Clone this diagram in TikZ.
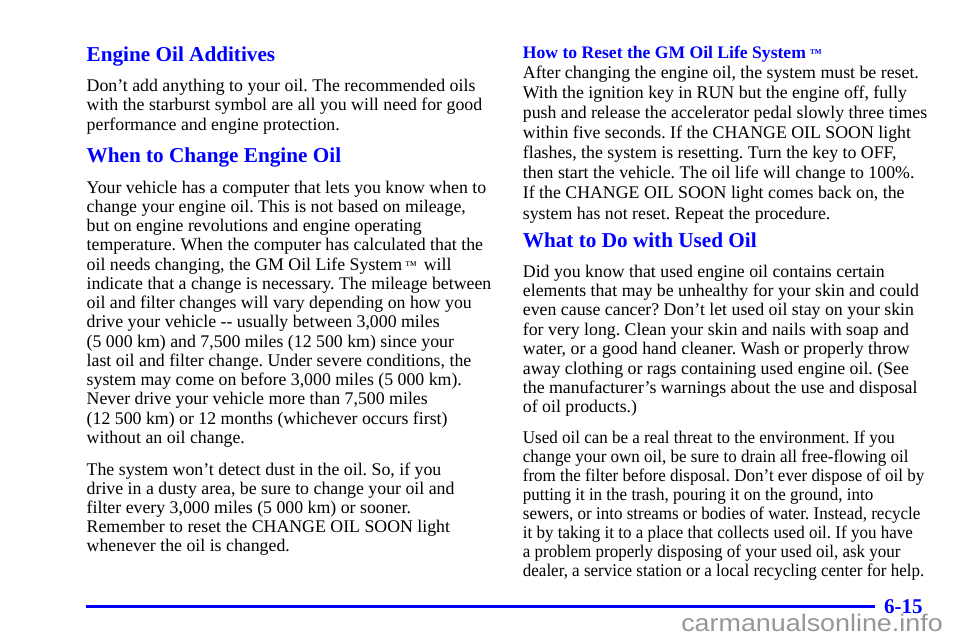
\documentclass[tikz,border=0pt]{standalone}
\usepackage{fontspec}
\setmainfont{Liberation Serif}
\newfontfamily\wmfont{Liberation Sans}
\newfontfamily\condfont[FakeStretch=0.955]{Liberation Serif}
\definecolor{gmblue}{RGB}{0,0,255}
\definecolor{wmgray}{RGB}{150,150,150}
\newcommand\oilpar[2]{\parbox[t]{470pt}{\frenchspacing\fontsize{17.8}{#1}\selectfont #2}}
\newcommand\tmark{{\fontsize{12}{12}\selectfont\raisebox{1pt}{™}}}
\tikzset{
  head/.style={anchor=base west,inner sep=0pt,text=gmblue,font=\fontsize{21.2}{24}\selectfont\bfseries},
  subhead/.style={head,font=\fontsize{17.6}{20}\selectfont\bfseries},
  body/.style={anchor=base west,inner sep=0pt},
}
\begin{document}
\begin{tikzpicture}[x=1pt,y=-1pt]
\useasboundingbox (0,0) rectangle (960,640);
% left column
\node[head] (addhead) at (86.5,61) {Engine Oil Additives};
\node[body] (addpar) at (86.5,91.7) {\oilpar{19.2}{Don’t add anything to your oil. The recommended oils\\
with the starburst symbol are all you will need for good\\
performance and engine protection.}};
\node[head] (changehead) at (86.5,162) {When to Change Engine Oil};
\node[body] (changepar) at (86.5,193) {\oilpar{19.25}{Your vehicle has a computer that lets you know when to\\
change your engine oil. This is not based on mileage,\\
but on engine revolutions and engine operating\\
temperature. When the computer has calculated that the\\
oil needs changing, the GM Oil Life System\hspace{3pt}\tmark\hspace{7pt}will\\
indicate that a change is necessary. The mileage between\\
oil and filter changes will vary depending on how you\\
drive your vehicle -{}- usually between 3,000 miles\\
(5 000 km) and 7,500 miles (12 500 km) since your\\
last oil and filter change. Under severe conditions, the\\
system may come on before 3,000 miles (5 000 km).\\
Never drive your vehicle more than 7,500 miles\\
(12 500 km) or 12 months (whichever occurs first)\\
without an oil change.}};
\node[body] (dustpar) at (86.5,475) {\oilpar{19.2}{The system won’t detect dust in the oil. So, if you\\
drive in a dusty area, be sure to change your oil and\\
filter every 3,000 miles (5 000 km) or sooner.\\
Remember to reset the CHANGE OIL SOON light\\
whenever the oil is changed.}};
% right column
\node[subhead] (resethead) at (522.7,58.3) {How to Reset the GM Oil Life System\hspace{4pt}\tmark};
\node[body] (resetpar) at (522.7,78.3) {\oilpar{20.1}{After changing the engine oil, the system must be reset.\\
With the ignition key in RUN but the engine off, fully\\
push and release the accelerator pedal slowly three times\\
within five seconds. If the CHANGE OIL SOON light\\
flashes, the system is resetting. Turn the key to OFF,\\
then start the vehicle. The oil life will change to 100\%.\\
If the CHANGE OIL SOON light comes back on, the\\
system has not reset. Repeat the procedure.}};
\node[head] (usedhead) at (522.7,247.3) {What to Do with Used Oil};
\node[body] (usedpar) at (522.7,277.3) {\oilpar{19.34}{Did you know that used engine oil contains certain\\
elements that may be unhealthy for your skin and could\\
even cause cancer? Don’t let used oil stay on your skin\\
for very long. Clean your skin and nails with soap and\\
water, or a good hand cleaner. Wash or properly throw\\
away clothing or rags containing used engine oil. (See\\
the manufacturer’s warnings about the use and disposal\\
of oil products.)}};
\node[body] (threatpar) at (522.7,443.3) {\oilpar{19.06}{\condfont Used oil can be a real threat to the environment. If you\\
change your own oil, be sure to drain all free-flowing oil\\
from the filter before disposal. Don’t ever dispose of oil by\\
putting it in the trash, pouring it on the ground, into\\
sewers, or into streams or bodies of water. Instead, recycle\\
it by taking it to a place that collects used oil. If you have\\
a problem properly disposing of your used oil, ask your\\
dealer, a service station or a local recycling center for help.}};
% foot
\coordinate (rulestart) at (86,606);
\node[anchor=base east,inner sep=0pt,text=gmblue,font=\fontsize{21}{24}\selectfont\bfseries] (pagenum) at (922.7,613.3) {6-15};
\draw[gmblue,line width=3pt] (rulestart) -- ([xshift=-9pt]pagenum.west |- rulestart);
\node[anchor=base east,inner sep=0pt,text=wmgray,font=\wmfont\fontsize{24}{24}\selectfont,xscale=1.12] (watermark) at (943,631.7) {carmanualsonline.info};
\end{tikzpicture}
\end{document}
